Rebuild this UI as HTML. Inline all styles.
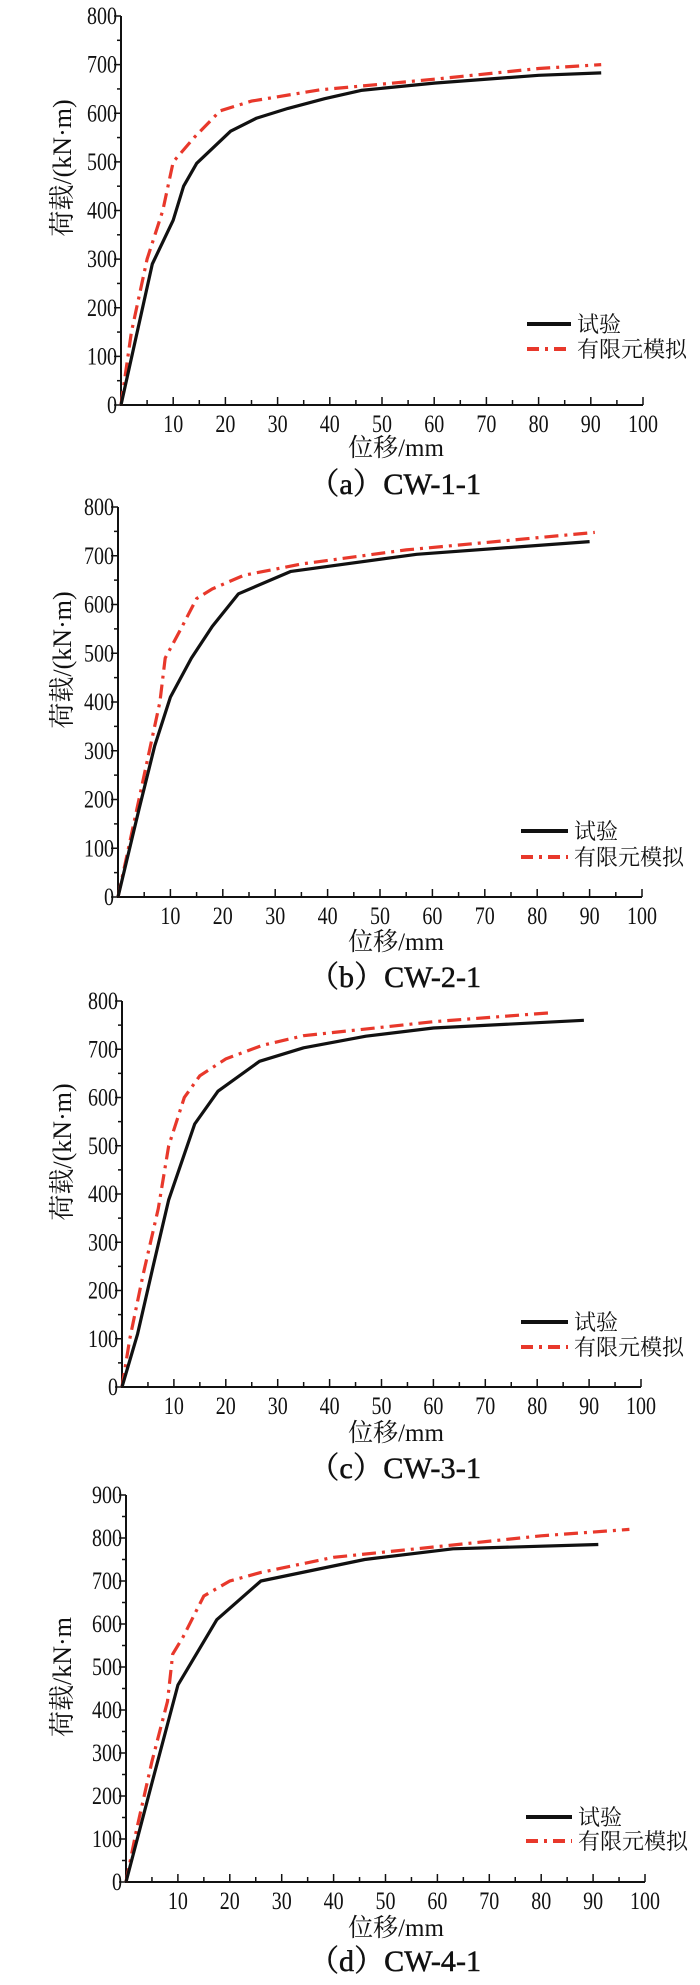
<!DOCTYPE html>
<html><head><meta charset="utf-8"><style>
html,body{margin:0;padding:0;background:#fff;}
svg{display:block;}
text{font-family:"Liberation Serif","Noto Serif CJK SC",serif;fill:#111;}
</style></head><body>
<svg id="fig" width="700" height="1985" viewBox="0 0 700 1985" xmlns="http://www.w3.org/2000/svg"></svg>
<script>
// Panel (a) CW-1-1
const aTestX=[0,6,10,12,14.5,21,26,32,39,46,60,80,92];
const aTestY=[0,290,380,450,497,563,590,610,630,647,662,678,683];
const aFemX=[0,2,5,8,10,14,19,25,38,50,60,80,92];
const aFemY=[0,150,300,400,500,550,605,625,648,660,670,692,700];
// Panel (b) CW-2-1
const bTestX=[0,4,7,10,14,18,23,33,57,90];
const bTestY=[0,180,310,410,490,555,622,668,703,729];
const bFemX=[0,3,6,8,9,12,15,18,24,35,55,91];
const bFemY=[0,150,300,400,490,550,612,632,660,683,712,748];
// Panel (c) CW-3-1
const cTestX=[0,3,6,9,14,18.5,26.5,35,47,60,89];
const cTestY=[0,110,250,388,545,613,675,703,727,744,760];
const cFemX=[0,1.5,4,7,9,12,15,20,27,35,60,83];
const cFemY=[0,100,230,370,500,600,645,680,708,728,757,776];
// Panel (d) CW-4-1
const dTestX=[0,5,10,17.5,26,46,63,91];
const dTestY=[0,230,458,610,700,750,775,785];
const dFemX=[0,2,5,8,9,11,15,20,26,40,60,80,97];
const dFemY=[0,120,280,420,530,570,665,700,720,755,780,805,820];
// Tick labels
const xTickLabels=["10","20","30","40","50","60","70","80","90","100"];
const yTicks8=["0","100","200","300","400","500","600","700","800"];
const yTicks9=["0","100","200","300","400","500","600","700","800","900"];

const NS="http://www.w3.org/2000/svg";
const svg=document.getElementById('fig');
function mk(tag,attrs,parent,txt){const e=document.createElementNS(NS,tag);for(const k in attrs)e.setAttribute(k,attrs[k]);if(txt!==undefined)e.textContent=txt;parent.appendChild(e);return e;}
function ctext(parent,x,y,anchor,size,sxf,str){
 return mk('text',{x:0,y:0,'text-anchor':anchor,'font-size':size,transform:`translate(${x} ${y}) scale(${sxf} 1)`},parent,str);
}

const panels=[
 {id:'a',x0:121,x1:643,y0:405,yTop:16,ymax:800,yt:yTicks8,tx:aTestX,ty:aTestY,fx:aFemX,fy:aFemY,leg:[527,571,324,349],ylab:'荷载/(kN·m)',ylc:168,xl:447,tl:483,title:'（a）CW-1-1'},
 {id:'b',x0:118,x1:642,y0:897,yTop:507,ymax:800,yt:yTicks8,tx:bTestX,ty:bTestY,fx:bFemX,fy:bFemY,leg:[521,568,831,857],ylab:'荷载/(kN·m)',ylc:660,xl:941,tl:976,title:'（b）CW-2-1'},
 {id:'c',x0:122,x1:641,y0:1387,yTop:1001,ymax:800,yt:yTicks8,tx:cTestX,ty:cTestY,fx:cFemX,fy:cFemY,leg:[521,568,1322,1347],ylab:'荷载/(kN·m)',ylc:1152,xl:1432,tl:1467,title:'（c）CW-3-1'},
 {id:'d',x0:126,x1:645,y0:1882,yTop:1495,ymax:900,yt:yTicks9,tx:dTestX,ty:dTestY,fx:dFemX,fy:dFemY,leg:[526,572,1817,1841],ylab:'荷载/kN·m',ylc:1677,xl:1927,tl:1960,title:'（d）CW-4-1'}
];

panels.forEach(p=>{
 const g=mk('g',{},svg);
 
 
 const sx=v=>p.x0+(p.x1-p.x0)*v/100;
 const sy=v=>p.y0-(p.y0-p.yTop)*v/p.ymax;
 const ax=mk('path',{d:`M${p.x0},${p.yTop} L${p.x0},${p.y0} L${p.x1},${p.y0}`,fill:'none',stroke:'#111','stroke-width':2},g);
 
 
 for(let i=1;i<=20;i++){const v=i*5;const x=sx(v);
  mk('line',{x1:x,x2:x,y1:p.y0,y2:p.y0-(i%2===0?8:5),stroke:'#111','stroke-width':1.5},g);}
 xTickLabels.forEach((t,i)=>{const v=(i+1)*10;
  const tl=ctext(g,sx(v),p.y0+27,'middle',25,0.8,t);
  
  });
 const nMinor=p.ymax/50;
 for(let i=0;i<=nMinor;i++){const y=sy(i*50);
  mk('line',{x1:p.x0,x2:p.x0-(i%2===0?7:4),y1:y,y2:y,stroke:'#111','stroke-width':1.5},g);}
 p.yt.forEach((t,i)=>{const y=sy(i*100);
  const tl=ctext(g,p.x0-4,y+8,'end',25,0.8,t);
  
  });
 const pts=(xs,ys)=>xs.map((x,i)=>sx(x).toFixed(1)+','+sy(ys[i]).toFixed(1)).join(' ');
 const fem=mk('polyline',{points:pts(p.fx,p.fy),fill:'none',stroke:'#e8382b','stroke-width':3.2,'stroke-dasharray':'14,6,3,6'},g);
 
 
 const test=mk('polyline',{points:pts(p.tx,p.ty),fill:'none',stroke:'#111','stroke-width':3.2,'stroke-linejoin':'round'},g);
 
 
 const [lx0,lx1,ly1,ly2]=p.leg;
 const lg=mk('g',{},g);
 
 
 mk('line',{x1:lx0,x2:lx1,y1:ly1,y2:ly1,stroke:'#111','stroke-width':4},lg);
 mk('text',{x:lx1+6,y:ly1+8,'font-size':22},lg,'试验');
 mk('line',{x1:lx0,x2:lx1,y1:ly2,y2:ly2,stroke:'#e8382b','stroke-width':4,'stroke-dasharray':'12,6,3,6'},lg);
 mk('text',{x:lx1+6,y:ly2+8,'font-size':22},lg,'有限元模拟');
 const cx=62;
 const yl=mk('text',{x:cx,y:p.ylc,'text-anchor':'middle','font-size':26,transform:`rotate(-90 ${cx} ${p.ylc})`,dy:9},g,p.ylab);
 
 
 const xl=mk('text',{x:396,y:p.xl+9,'text-anchor':'middle','font-size':25},g,'位移/mm');
 
 
 const tt=mk('text',{x:395,y:p.tl+11,'text-anchor':'middle','font-size':30,textLength:172,lengthAdjust:'spacingAndGlyphs',stroke:'#111','stroke-width':0.5},g,p.title);
 
 
});
</script>
</body></html>
